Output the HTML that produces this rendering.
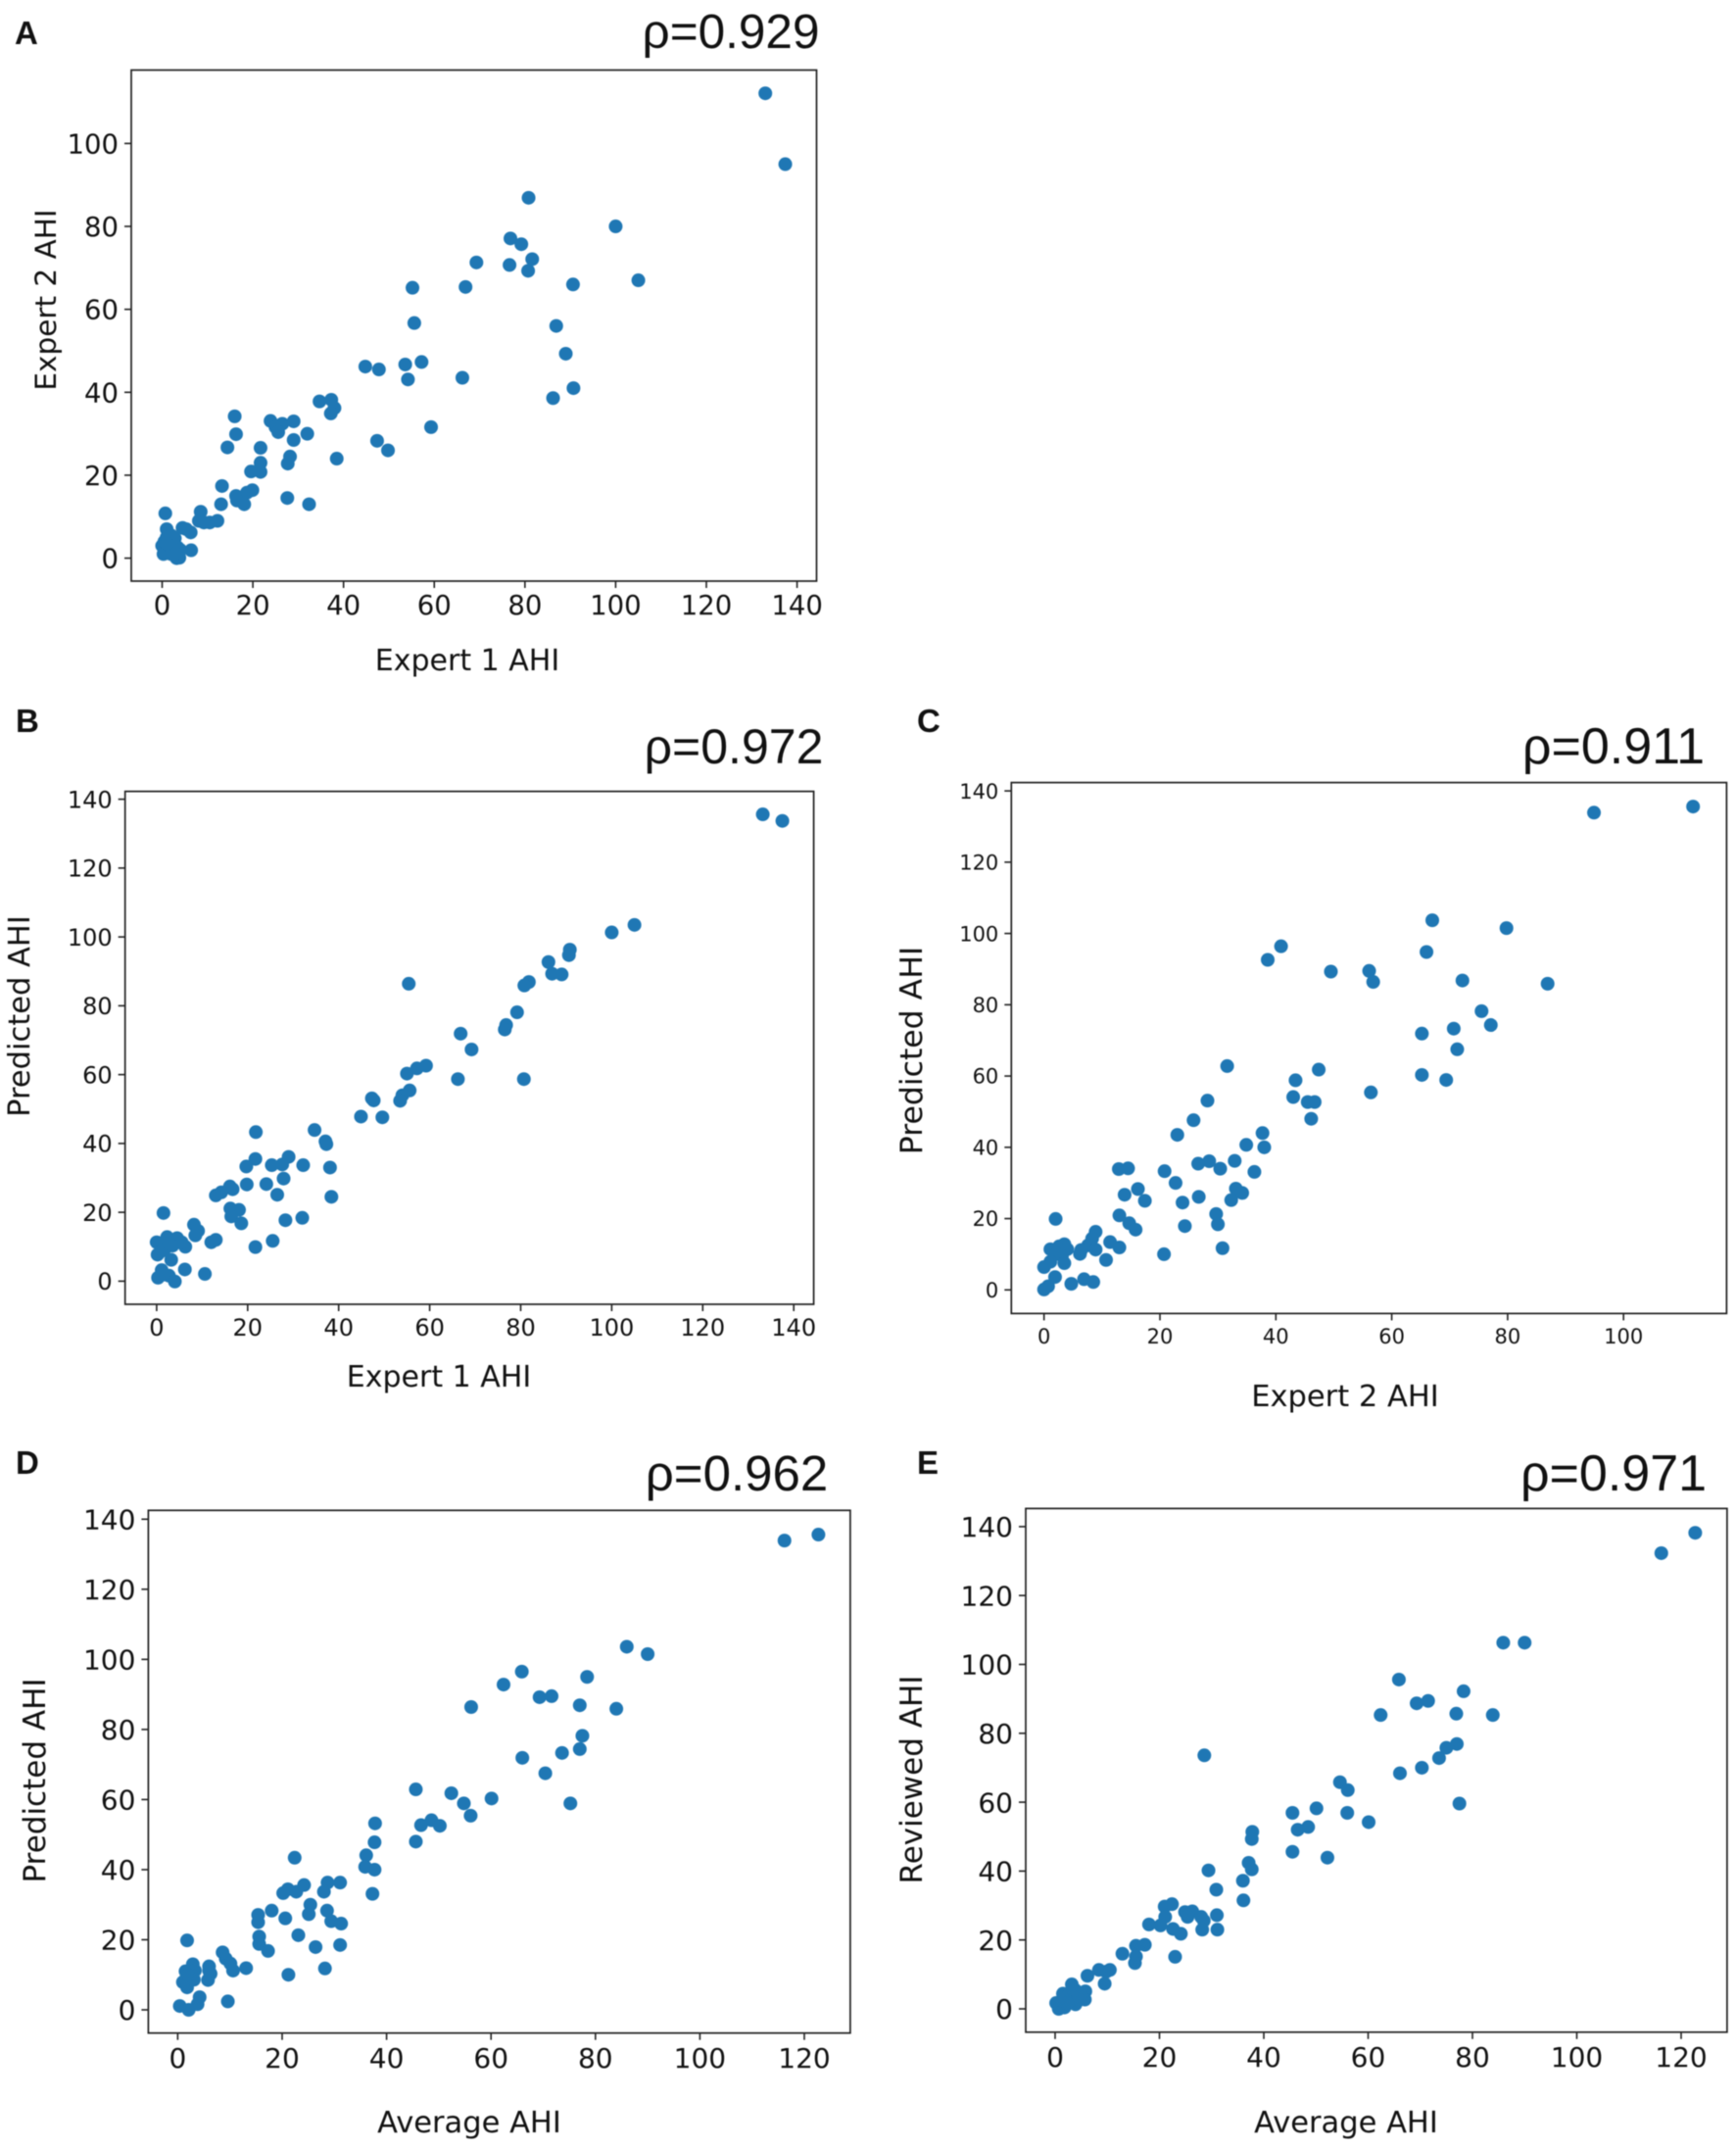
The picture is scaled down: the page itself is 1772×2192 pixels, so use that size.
<!DOCTYPE html>
<html lang="en">
<head>
<meta charset="utf-8">
<title>AHI scatter comparison panels</title>
<style>
html,body{margin:0;padding:0;background:#fff;}
#figure{display:block;width:1772px;height:2192px;filter:blur(0.45px);}
text{fill:#111;font-family:"DejaVu Sans","Liberation Sans",sans-serif;}
.rho{font-family:"Liberation Sans",sans-serif;text-anchor:middle;}
.letter{font-family:"Liberation Sans",sans-serif;font-size:33px;font-weight:bold;}
.axis-label{text-anchor:middle;}
</style>
</head>
<body>
<svg id="figure" xmlns="http://www.w3.org/2000/svg" width="1772" height="2192" viewBox="0 0 1772 2192">
  <rect x="0" y="0" width="1772" height="2192" fill="#ffffff"/>

  <text class="letter" x="15" y="45">A</text>
  <text class="rho" x="746" y="49" font-size="49.5">ρ=0.929</text>
  <text class="axis-label" x="477" y="684" font-size="30">Expert 1 AHI</text>
  <text class="axis-label" transform="translate(57,306) rotate(-90)" font-size="29.5">Expert 2 AHI</text>

  <text class="letter" x="16" y="747">B</text>
  <text class="rho" x="749" y="779" font-size="50">ρ=0.972</text>
  <text class="axis-label" x="448" y="1415" font-size="30">Expert 1 AHI</text>
  <text class="axis-label" transform="translate(30,1037) rotate(-90)" font-size="30.5">Predicted AHI</text>

  <text class="letter" x="936" y="747">C</text>
  <text class="rho" x="1647" y="779" font-size="52">ρ=0.911</text>
  <text class="axis-label" x="1373" y="1435" font-size="30.5">Expert 2 AHI</text>
  <text class="axis-label" transform="translate(941,1072) rotate(-90)" font-size="31.5">Predicted AHI</text>

  <text class="letter" x="16" y="1504">D</text>
  <text class="rho" x="752" y="1521" font-size="51">ρ=0.962</text>
  <text class="axis-label" x="479" y="2176" font-size="30.5">Average AHI</text>
  <text class="axis-label" transform="translate(46,1817) rotate(-90)" font-size="31">Predicted AHI</text>

  <text class="letter" x="936" y="1504">E</text>
  <text class="rho" x="1647" y="1521" font-size="52">ρ=0.971</text>
  <text class="axis-label" x="1374" y="2176" font-size="30.5">Average AHI</text>
  <text class="axis-label" transform="translate(941,1816) rotate(-90)" font-size="31">Reviewed AHI</text>
</svg>
<script>
var ticks0to140 = [0,20,40,60,80,100,120,140];
var ticks0to120 = [0,20,40,60,80,100,120];
var ticks0to100 = [0,20,40,60,80,100];

var panelAExpert1 = [133,137.4,80.8,100,105,76.8,79.2,81.6,69.3,76.6,80.7,66.9,55.2,90.6,55.6,86.9,89,44.8,47.8,53.6,57.2,54.2,66.2,86.2,90.7,34.7,37.3,38,37.2,59.3,16,23.9,26.5,25,25.6,29,32,16.3,29,14.4,21.7,47.4,49.8,38.5,28.2,27.7,21.7,19.6,21.7,13.2,19.9,18.7,16.3,16.5,18.1,13,27.6,32.4,0.7,8.5,8.1,9.2,10.5,12.2,4.5,5.3,6.3,1,0,0.5,1,2,2.8,0.3,1,1.5,2,2.5,3,3.5,4,3.2,3.8,6.4,2,3,1];
var panelAExpert2 = [112.1,95,86.9,80,67,77.1,75.7,72.1,71.3,70.7,69.3,65.4,65.2,66,56.7,56,49.3,46.2,45.5,46.7,47.3,43.1,43.5,38.6,41,37.8,38.2,36.2,34.9,31.6,34.2,33.1,32.4,31.6,30.4,33,30,29.9,28.5,26.7,26.6,28.3,26,24,24.5,22.8,23,20.9,20.8,17.4,16.4,15.8,15,13.9,13,13,14.5,13,10.8,11.2,9,8.6,8.6,9,7.3,7,6.2,7,3,4,5,5.5,4.8,1,1.5,3,2.5,1.5,3,2.5,2,0,0.1,1.9,1,1,3.5];

var panelBExpert1 = [133.2,137.5,105,100,90.8,90.6,86.1,86.9,89,81.8,80.8,55.4,79.2,76.8,76.5,66.8,69.2,59.2,57.2,55,66.2,80.7,55.6,54,53.5,47.3,47.7,44.9,49.6,21.8,34.7,37.1,37.3,29,21.7,25.3,27.6,32.2,38.1,19.7,27.9,19.8,24.1,16.1,16.7,14.2,13,26.5,38.4,16.2,18.1,16.4,18.6,28.3,32,1.5,8.2,9.1,8.5,13,12,25.5,21.7,0,2.3,4.5,6.3,5.5,0.2,3.2,2,3.5,1.3,1,2.7,6.2,10.6,1.1,0.3,2.7,4,1.5];
var panelBPredicted = [135.6,133.7,103.5,101.3,96.3,94.7,92.7,89.3,89.1,86.9,85.9,86.4,78.1,74.4,73.1,71.9,67.3,62.6,61.8,60.3,58.7,58.7,55.4,54,52.4,53.1,52.5,47.8,47.6,43.3,43.9,40.6,39.8,36.1,35.5,33.7,33.9,33.7,33,33.3,29.8,28.1,28.2,27.5,26.7,25.8,24.9,25.1,24.5,21.1,20.7,18.8,16.8,17.7,18.4,19.8,16.4,14.6,13.3,12,11.3,11.7,9.9,11.3,12.8,12.5,10,11.3,7.7,6.2,9.7,10.3,11,8.7,11,3.4,2.1,3.2,1,1.6,-0.1,1.9];

var panelCExpert2 = [112,94.9,67,79.8,40.9,38.6,66,49.5,56.1,56.8,72.2,86.9,75.5,77.1,70.7,65.2,71.3,31.6,47.4,43.4,65.2,69.4,56.4,43,45.5,46.7,46.1,28.2,25.8,23,37.7,34.9,38,32.9,28.5,26.6,30.4,20.8,12.9,14.5,36.3,22.7,16.2,13.9,17.4,33.1,34.2,32.3,26.7,23.9,29.7,30,24.3,13,14.7,15.8,30.8,20.7,2,8.9,8.3,11.4,13,7.6,8.9,6.4,6.2,10.7,1.1,2.6,3.5,4,2.1,3.1,1.1,3.5,0,1.9,4.7,6.9,8.5,0,0.7];
var panelCPredicted = [135.6,133.9,103.7,101.5,96.4,92.6,94.8,89.3,89.5,86.4,86.8,85.9,78.2,74.3,73.3,71.9,67.5,62.8,61.8,58.8,60.3,58.9,55.4,54.1,52.7,52.7,48,53.1,47.6,43.5,44,40.7,40,36.2,36.1,35.4,34,33.3,33.9,34.1,33.1,30,28.3,26.7,25,28.4,27.2,25.2,26.1,24.5,21.3,18.4,17.9,20.9,18.7,16.9,11.7,10,19.9,16.3,14.4,13.4,11.9,12.5,11.3,11.2,10.1,8.4,11.4,12.2,12.8,11.4,10.1,9.6,7.9,7.5,6.4,3.6,1.7,3,2.2,0.1,1];

var panelDAverage = [122.7,116.2,86,90,65.9,62.4,78.4,69.3,71.6,56.2,77,84,77.5,77,73.6,66,70.4,45.6,52.4,60.1,54.8,75.2,56.1,37.8,48.6,46.6,50.2,37.7,45.6,22.4,36.1,35.9,37.7,24.2,28.7,31.1,21.1,20.2,22.7,28,37.3,25.4,25.1,18,15.4,15.4,20.6,28.6,29.4,31.3,23.1,15.6,15.6,17.3,26.4,31.1,1.8,8.6,9.2,10.1,13.1,10.6,21.2,28.2,6,6.3,5.8,6,2.9,1.5,3.3,2.5,1,1.8,3.1,1.5,2,4.2,3.8,9.6,0.4,2.1];
var panelDPredicted = [135.6,133.9,103.6,101.5,96.5,92.8,95,89.2,89.5,86.4,86.9,85.9,78.2,74.4,73.3,71.9,67.5,62.9,61.8,60.3,58.9,58.9,55.4,53.2,54.1,52.7,52.5,47.8,48,43.4,44.1,40.8,40,35.6,36.3,36.3,34.4,33.3,33.7,33.7,33.1,30,27.3,28.3,27.1,25,26.1,28.3,25.3,24.6,21.3,20.9,18.8,16.8,17.9,18.5,19.8,16.4,14.6,13.2,11.9,11.2,10,11.8,12.4,10.3,8.5,11.2,13,11,11.2,9.9,7.9,6.4,8.6,8.6,9.9,3.6,1.6,2.4,1.1,0];

var panelEAverage = [122.7,116.2,85.9,90,65.9,62.4,78.3,69.3,71.5,76.9,83.9,77,75,73.6,70.3,66.1,28.6,77.5,54.6,56.1,56,50.1,45.5,60.1,48.5,46.5,37.8,37.7,45.5,52.2,37.1,37.7,29.4,36,30.9,36.1,22.4,21,24.9,26.3,28,28.5,31,21.1,25.4,18,20.2,28.2,31.1,22.6,24.1,23,17.2,15.5,12.9,15.5,15.3,10.5,8.4,9.8,9.5,6.2,3.2,5.8,5.7,3.9,1.5,2.5,3.9,5,0.2,0.7,1.8,1.3,2.9,3.9,4.5,2.3,3.4];
var panelEReviewed = [138.2,132.3,106.3,106.3,95.6,85.3,92.2,88.7,89.4,85.7,85.3,76.9,75.8,72.8,70,68.4,73.6,59.6,65.8,63.5,56.9,58.2,56.9,54.2,52.8,52,51.4,49.3,45.6,43.9,42.4,40.5,40.2,37.2,34.6,31.5,30.4,29.7,28.1,28.3,26.7,25.6,27.2,26.7,26.7,24.5,24.2,23,23,23.2,21.8,15.1,18.6,18.3,16,15.2,13.3,11.3,11.3,10.8,7.3,9.6,7.1,5.1,2.7,1.3,4.4,3.8,4.4,3.8,1.7,0,0.4,2.4,2.4,5.4,2.7,1.7,5.8];

var svg = document.getElementById('figure');
var NS = 'http://www.w3.org/2000/svg';

function linearAxis(zeroPx, endPx, endValue) {
  return function (v) { return zeroPx + v * (endPx - zeroPx) / endValue; };
}

function make(tag, attrs, parent) {
  var el = document.createElementNS(NS, tag);
  for (var k in attrs) { el.setAttribute(k, attrs[k]); }
  parent.appendChild(el);
  return el;
}

function drawPanel(id, box, xs, ys, xTicks, yTicks) {
  var xAxis = linearAxis(box.xZero, box.xEnd, xTicks[xTicks.length - 1]);
  var yAxis = linearAxis(box.yZero, box.yEnd, yTicks[yTicks.length - 1]);

  var group = make('g', {}, svg);
  
  

  var frame = make('rect', {x: box.left, y: box.top, width: box.right - box.left, height: box.bottom - box.top, fill: '#fff', stroke: '#222', 'stroke-width': 1.7}, group);
  
  

  xTicks.forEach(function (v) {
    var px = xAxis(v);
    var tick = make('line', {x1: px, x2: px, y1: box.bottom, y2: box.bottom + 7, stroke: '#222', 'stroke-width': 1.6}, group);
    
    
    var label = make('text', {x: px, y: box.xLabelBase, 'font-size': box.tickFont, 'text-anchor': 'middle'}, group);
    
    
    label.textContent = String(v);
  });

  yTicks.forEach(function (v) {
    var py = yAxis(v);
    var tick = make('line', {x1: box.left - 7, x2: box.left, y1: py, y2: py, stroke: '#222', 'stroke-width': 1.6}, group);
    
    
    var label = make('text', {x: box.left - 13, y: py + box.tickFont * 0.365, 'font-size': box.tickFont, 'text-anchor': 'end'}, group);
    
    
    label.textContent = String(v);
  });

  for (var i = 0; i < xs.length && i < ys.length; i++) {
    var dot = make('circle', {cx: xAxis(xs[i]), cy: yAxis(ys[i]), r: 7, fill: '#1f77b4'}, group);
    
    
  }
}

drawPanel('panel-a', {left:134,right:833.5,top:71.5,bottom:593,xZero:165.5,xEnd:813.6,yZero:569.6,yEnd:146.4,tickFont:27.5,xLabelBase:627}, panelAExpert1, panelAExpert2, ticks0to140, [0,20,40,60,80,100]);
drawPanel('panel-b', {left:127.7,right:830.6,top:807.6,bottom:1331,xZero:159.9,xEnd:810.2,yZero:1307.4,yEnd:815.6,tickFont:24,xLabelBase:1363}, panelBExpert1, panelBPredicted, ticks0to140, ticks0to140);
drawPanel('panel-c', {left:1032.3,right:1762.4,top:798.6,bottom:1340.4,xZero:1065.7,xEnd:1657.2,yZero:1316.3,yEnd:807.1,tickFont:21,xLabelBase:1371}, panelCExpert2, panelCPredicted, ticks0to100, ticks0to140);
drawPanel('panel-d', {left:151.4,right:867.9,top:1541.3,bottom:2074.7,xZero:181.4,xEnd:821,yZero:2051,yEnd:1550.3,tickFont:28,xLabelBase:2110}, panelDAverage, panelDPredicted, ticks0to120, ticks0to140);
drawPanel('panel-e', {left:1047,right:1762.9,top:1539.4,bottom:2073.8,xZero:1077,xEnd:1716,yZero:2050,yEnd:1557.9,tickFont:28,xLabelBase:2109}, panelEAverage, panelEReviewed, ticks0to120, ticks0to140);
</script>
</body>
</html>
